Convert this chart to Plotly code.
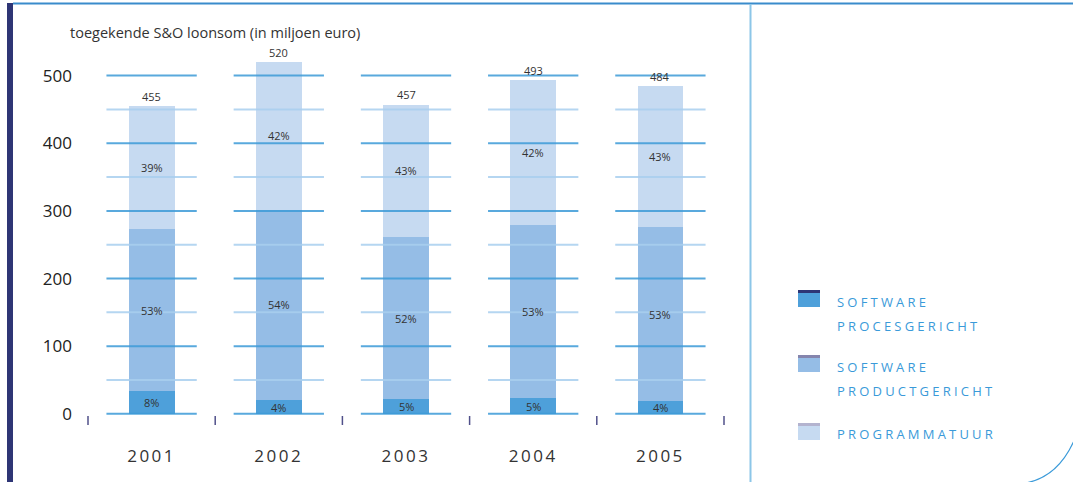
import plotly.graph_objects as go

years = ["2001", "2002", "2003", "2004", "2005"]
procesgericht = [34, 20, 22, 23, 19]
productgericht = [239, 282, 239, 256, 257]
programmatuur = [182, 218, 196, 214, 208]
pct_proces = ["8%", "4%", "5%", "5%", "4%"]
pct_product = ["53%", "54%", "52%", "53%", "53%"]
pct_prog = ["39%", "42%", "43%", "42%", "43%"]
totals = ["455", "520", "457", "493", "484"]
y_ticks = [0, 100, 200, 300, 400, 500]
grid_levels = list(range(0, 501, 50))
legend_names = ["SOFTWARE<br>PROCESGERICHT", "SOFTWARE<br>PRODUCTGERICHT", "PROGRAMMATUUR"]
title_text = "toegekende S&O loonsom (in miljoen euro)"

FONT = "Open Sans"
C_PROC = "#4ea0da"
C_PROD = "#95bde6"
C_PROG = "#c6daf1"
W, H = 1073, 482
ML, MR, MT, MB = 88, 349, 35, 58
PW, PH = W - ML - MR, H - MT - MB


def px(x):
    return (x - ML) / PW


def py(y):
    return (H - MB - y) / PH


xs = list(range(len(years)))
fig = go.Figure()
for vals, col, name in [(procesgericht, C_PROC, "proces"),
                        (productgericht, C_PROD, "product"),
                        (programmatuur, C_PROG, "prog")]:
    fig.add_trace(go.Bar(x=xs, y=vals, marker=dict(color=col, line=dict(width=0)),
                         width=0.36, name=name, showlegend=False, hoverinfo="y"))

fig.update_layout(barmode="stack")

shapes = []
# gridline segments per category, drawn above bars
for i in xs:
    for lv in grid_levels:
        major = lv % 100 == 0
        shapes.append(dict(type="line", xref="x", yref="y", x0=i - 0.355, x1=i + 0.355,
                           y0=lv, y1=lv, layer="above", opacity=0.85,
                           line=dict(color="#3d9bd8" if major else "#a9cfef", width=2)))
# small category separator ticks below axis
for k in range(len(years) + 1):
    shapes.append(dict(type="line", xref="paper", yref="paper", x0=k / len(years), x1=k / len(years),
                       y0=py(416), y1=py(425), line=dict(color="#50508a", width=1.5)))
# decorations
shapes.append(dict(type="rect", xref="paper", yref="paper", x0=px(7), x1=px(13), y0=py(490), y1=py(3),
                   fillcolor="#2e3575", line=dict(width=0)))
shapes.append(dict(type="line", xref="paper", yref="paper", x0=px(13), x1=px(1080), y0=py(3.5), y1=py(3.5),
                   line=dict(color="#3a8ccc", width=2)))
shapes.append(dict(type="line", xref="paper", yref="paper", x0=px(750.5), x1=px(750.5), y0=py(4), y1=py(490),
                   line=dict(color="#8cc6e8", width=2)))
shapes.append(dict(type="path", xref="paper", yref="paper",
                   path=f"M {px(1076)},{py(436)} Q {px(1058)},{py(481)} {px(1018)},{py(484)}",
                   line=dict(color="#3a9ad9", width=1.2)))
# legend swatches
sw = [(290, "#2e3575", C_PROC), (355, "#8585ad", C_PROD), (423, "#b3b3cf", C_PROG)]
for top, sc, fc in sw:
    shapes.append(dict(type="rect", xref="paper", yref="paper", x0=px(798), x1=px(820),
                       y0=py(top + 17), y1=py(top + 3), fillcolor=fc, line=dict(width=0)))
    shapes.append(dict(type="rect", xref="paper", yref="paper", x0=px(798), x1=px(820),
                       y0=py(top + 3), y1=py(top), fillcolor=sc, line=dict(width=0)))

annotations = []
# segment labels
for i in xs:
    b0 = 0
    for vals, labels in [(procesgericht, pct_proces), (productgericht, pct_product),
                         (programmatuur, pct_prog)]:
        annotations.append(dict(x=i, y=b0 + vals[i] / 2, xref="x", yref="y", text=labels[i],
                                showarrow=False, font=dict(family=FONT, size=11, color="#333333")))
        b0 += vals[i]
    annotations.append(dict(x=i, y=b0, xref="x", yref="y", text=totals[i], showarrow=False,
                            yshift=10, font=dict(family=FONT, size=11, color="#333333")))
# title
annotations.append(dict(x=px(68), y=py(33), xref="paper", yref="paper", xanchor="left", yanchor="middle",
                        text=title_text, showarrow=False, font=dict(family=FONT, size=14.5, color="#333333")))
# legend labels
leg_y = [(302, 326), (367, 391), (434, None)]
for name, (y1, y2) in zip(legend_names, leg_y):
    parts = name.split("<br>")
    ys = [y1] if y2 is None else [y1, y2]
    for p, yy in zip(parts, ys):
        annotations.append(dict(x=px(835), y=py(yy), xref="paper", yref="paper", xanchor="left",
                                yanchor="middle", align="left", text=p, showarrow=False,
                                font=dict(family=FONT, size=13, color="#3a9ad9")))

fig.update_layout(
    width=W, height=H, margin=dict(l=ML, r=MR, t=MT, b=MB),
    paper_bgcolor="white", plot_bgcolor="white",
    shapes=shapes, annotations=annotations, showlegend=False,
    bargap=0,
    xaxis=dict(range=[-0.5, 4.5], tickvals=xs, ticktext=years, showgrid=False, zeroline=False,
               showline=False, ticks="", ticklabelstandoff=20,
               tickfont=dict(family=FONT, size=17, color="#333333")),
    yaxis=dict(range=[-15, 560], tickvals=y_ticks, showgrid=False, zeroline=False, showline=False,
               ticks="", ticklabelstandoff=15, tickfont=dict(family=FONT, size=17, color="#222222")),
)

post = """
document.body.style.margin = '0';
document.body.style.padding = '0';
document.body.style.overflow = 'hidden';
function ls(){
  var gd = document.getElementById('{plot_id}');
  if(!gd) return;
  gd.querySelectorAll('.annotation-text').forEach(function(t){
    var s = t.textContent;
    if (/^[A-Z]+$/.test(s)) { t.style.letterSpacing = '3.2px'; }
  });
  gd.querySelectorAll('.xtick text').forEach(function(t){ t.style.letterSpacing = '2.5px'; });
}
ls(); setTimeout(ls, 50);
"""
fig.write_html("out.html", post_script=post, config={"displayModeBar": False})
